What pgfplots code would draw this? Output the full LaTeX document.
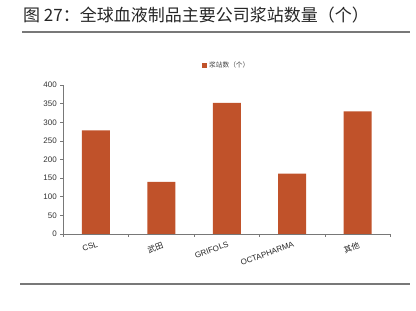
\documentclass[border=0pt]{standalone}
\usepackage{fontspec}
\setmainfont{Liberation Sans}
\newfontfamily\cjk{Noto Sans CJK SC}
\usepackage{pgfplots}
\pgfplotsset{compat=1.18}
\definecolor{barc}{RGB}{192,82,42}
\definecolor{axc}{RGB}{120,120,120}
\begin{document}
\begin{tikzpicture}[x=1pt,y=1pt]
\path[use as bounding box] (0,0) rectangle (416,311);
\node[anchor=west,font=\cjk\fontsize{17}{19}\selectfont,text=black!85,inner sep=0pt] at (23,296) {图 27：全球血液制品主要公司浆站数量（个）};
\draw[axc,line width=1.2pt] (22,279) -- (410,279);
\draw[axc,line width=1.2pt] (20,27) -- (410,27);
\begin{axis}[
  at={(63.3pt,77pt)}, anchor=south west,
  scale only axis, width=327pt, height=149pt,
  xmin=-0.5, xmax=4.5, ymin=0, ymax=400,
  ytick={0,50,...,400},
  xtick={0,1,2,3,4},
  xticklabels={CSL,{\cjk 武田},GRIFOLS,OCTAPHARMA,{\cjk 其他}},
  minor xtick={-0.5,0.5,1.5,2.5,3.5,4.5},
  major x tick style={draw=none},
  minor tick length=3pt,
  major tick length=3pt,
  tick align=outside,
  tick style={axc, line width=0.6pt},
  axis x line*=bottom, axis y line*=left,
  axis line style={axc, line width=0.8pt, -},
  xticklabel style={rotate=20, anchor=north east, font=\fontsize{8}{9}\selectfont, inner sep=1pt, yshift=-3pt, text=black!85},
  yticklabel style={font=\fontsize{8}{9}\selectfont, text=black!80},
  /pgf/number format/assume math mode=true,
  ybar, bar width=28pt,
  legend style={at={(0.5,1.13)}, anchor=center, draw=none, font=\cjk\fontsize{6.7}{7.5}\selectfont, inner sep=0pt, text=black!75},
  legend image code/.code={\fill[barc] (0pt,-2.5pt) rectangle (5pt,2.5pt);},
]
\addplot[fill=barc, draw=none] coordinates {(0,278) (1,140) (2,352) (3,162) (4,329)};
\addlegendentry{浆站数（个）}
\end{axis}
\end{tikzpicture}
\end{document}
